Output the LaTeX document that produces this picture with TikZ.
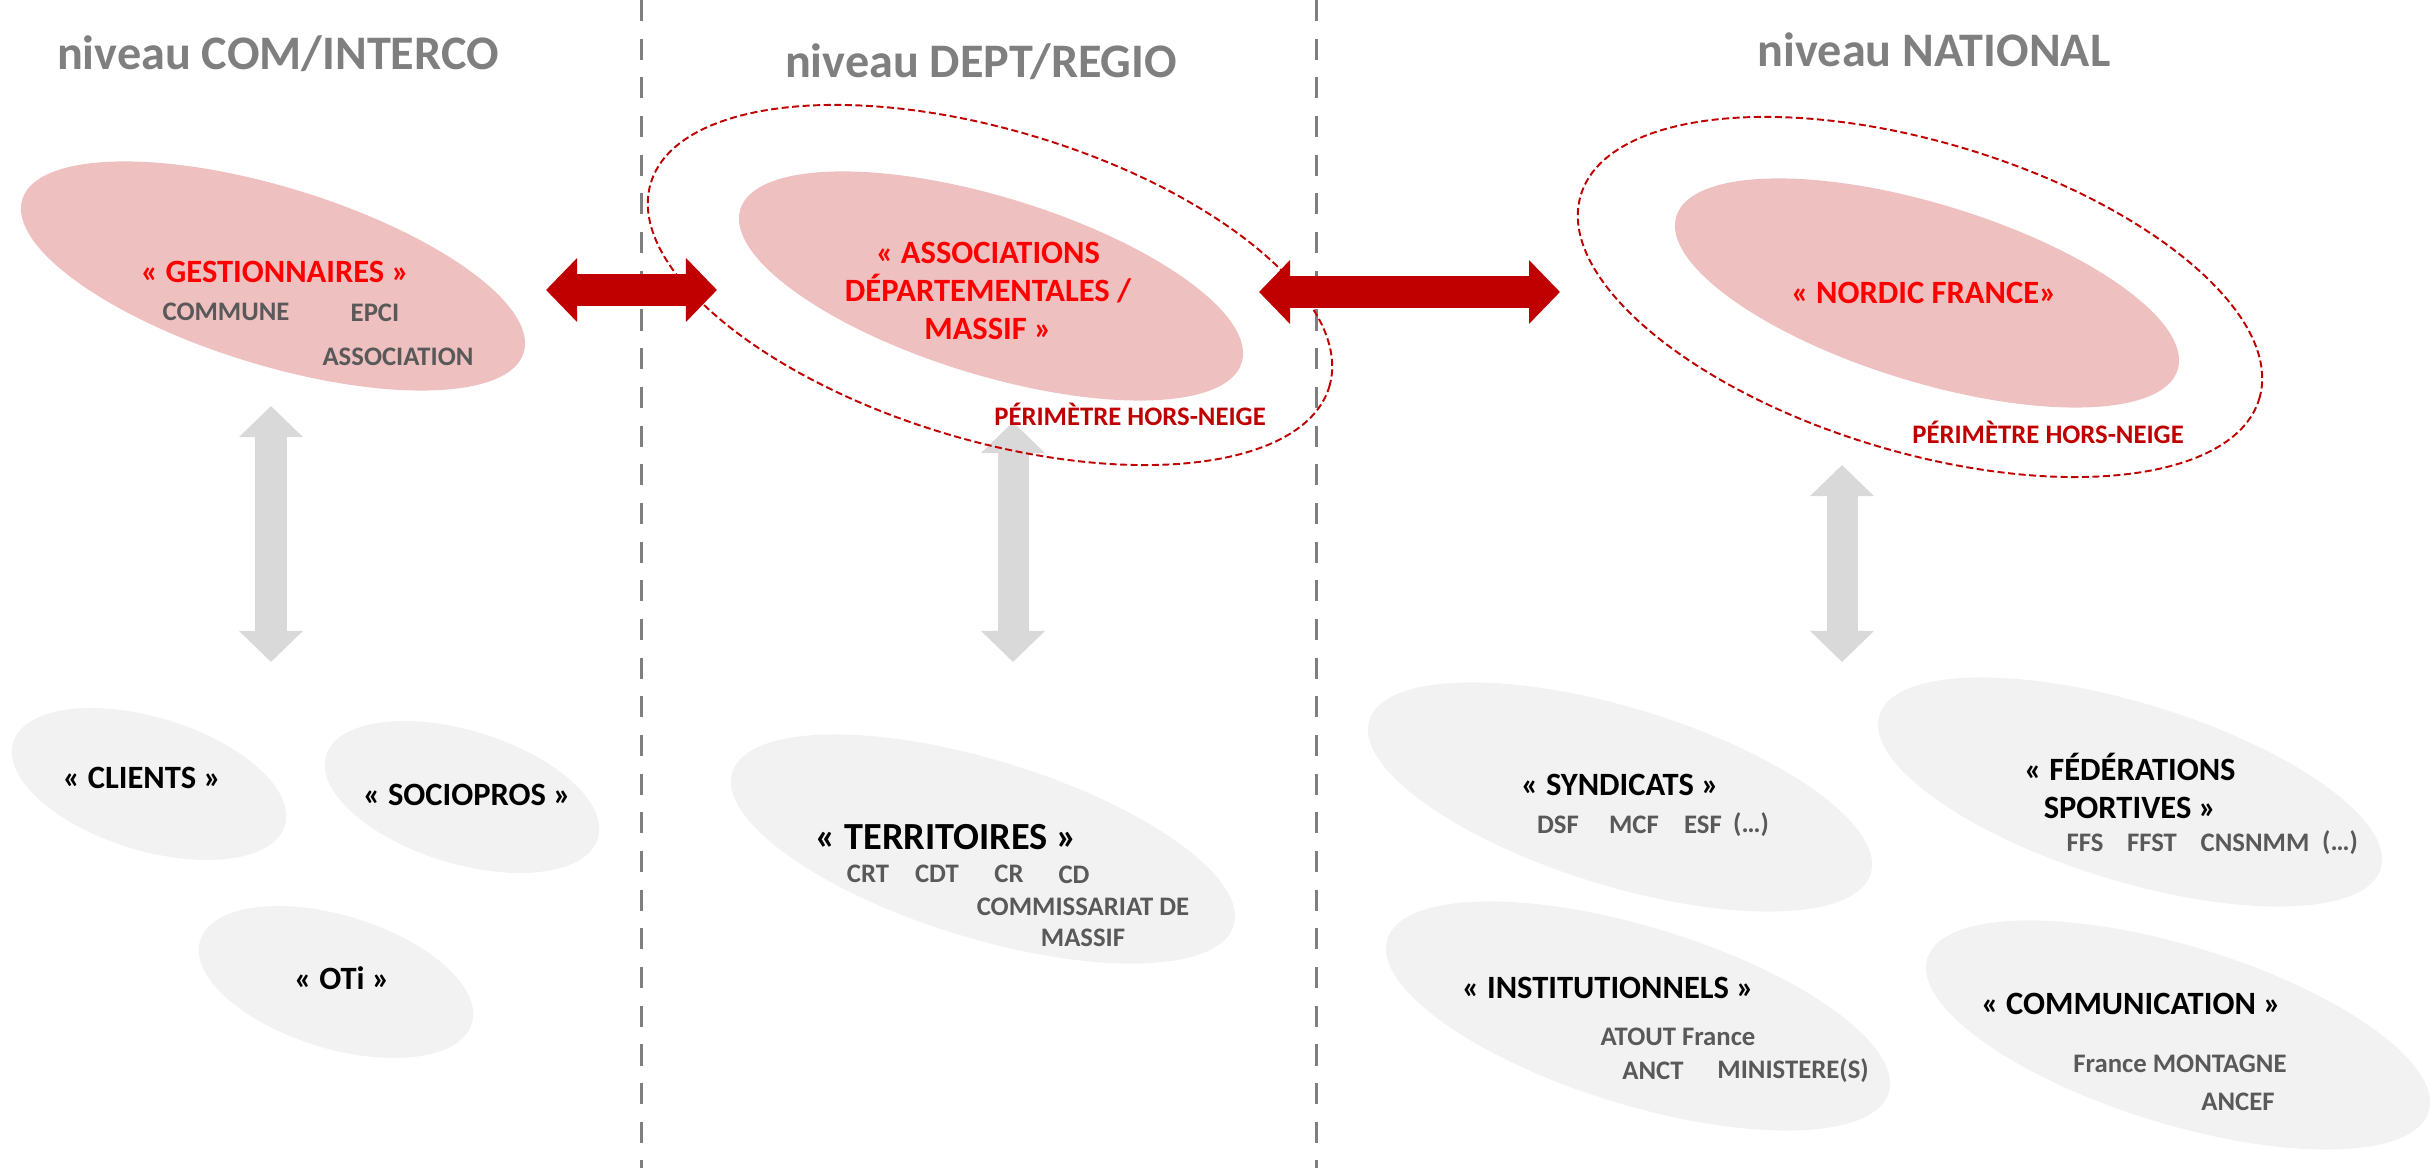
\documentclass[tikz,border=0pt]{standalone}
\usepackage{fontspec}
\setmainfont{Carlito}
\usetikzlibrary{shapes.geometric,arrows.meta}

\definecolor{pinkfill}{RGB}{239,192,192}
\definecolor{greyfill}{RGB}{242,242,242}
\definecolor{arrowgrey}{RGB}{217,217,217}
\definecolor{darkred}{RGB}{192,0,0}
\definecolor{brightred}{RGB}{255,0,0}
\definecolor{titlegrey}{RGB}{127,127,127}
\definecolor{subgrey}{RGB}{89,89,89}

\begin{document}
\begin{tikzpicture}[x=0.01cm, y=-0.01cm,
    levelline/.style={titlegrey, line width=0.85pt, dash pattern=on 6pt off 5pt},
    leveltitle/.style={text=titlegrey, font=\fontsize{13.7}{16}\selectfont\bfseries},
    bigell/.style={ellipse, inner sep=0pt, minimum width=5.24cm, minimum height=1.78cm, rotate=-17},
    smallell/.style={ellipse, inner sep=0pt, minimum width=2.84cm, minimum height=1.33cm, rotate=-17},
    perimell/.style={ellipse, inner sep=0pt, draw=darkred, line width=0.55pt, dash pattern=on 2pt off 1pt,
        minimum width=7.08cm, minimum height=3.1cm, rotate=-16.7},
    grouplab/.style={font=\fontsize{9.25}{10.9}\selectfont\bfseries, align=center, inner sep=0pt},
    redlab/.style={grouplab, text=brightred},
    sublab/.style={text=subgrey, font=\fontsize{7.6}{8.8}\selectfont\bfseries, align=center, inner sep=0pt},
    perimlab/.style={text=darkred, font=\fontsize{7.6}{8.8}\selectfont\bfseries, inner sep=0pt},
    redlink/.style={darkred, line width=0.32cm,
        {Triangle[length=0.31cm,width=0.62cm]}-{Triangle[length=0.31cm,width=0.62cm]}},
    greylink/.style={arrowgrey, line width=0.31cm,
        {Triangle[length=0.31cm,width=0.62cm]}-{Triangle[length=0.31cm,width=0.62cm]}}]

    \useasboundingbox (0,0) rectangle (2433,1168);

    % Level separators
    \draw[levelline] (641,0) -- (641,1168);
    \draw[levelline] (1316,0) -- (1316,1168);

    % Level titles
    \node[leveltitle] (t-com) at (278,54) {niveau COM/INTERCO};
    \node[leveltitle] (t-dept) at (981,62) {niveau DEPT/REGIO};
    \node[leveltitle] (t-nat) at (1934,50) {niveau NATIONAL};

    % Main actors
    \node[bigell, fill=pinkfill] (gest) at (273,276) {};
    \node[bigell, fill=pinkfill] (assoc) at (991,286) {};
    \node[bigell, fill=pinkfill] (nordic) at (1927,293) {};

    % Partners, COM/INTERCO
    \node[smallell, fill=greyfill] (clients) at (149,784) {};
    \node[smallell, fill=greyfill] (sociopros) at (462,797) {};
    \node[smallell, fill=greyfill] (oti) at (336,982) {};

    % Partners, DEPT/REGIO
    \node[bigell, fill=greyfill] (territ) at (983,849) {};

    % Partners, NATIONAL
    \node[bigell, fill=greyfill] (syndic) at (1620,797) {};
    \node[bigell, fill=greyfill] (feder) at (2130,792) {};
    \node[bigell, fill=greyfill] (instit) at (1638,1016) {};
    \node[bigell, fill=greyfill] (commu) at (2178,1035) {};

    % Links
    \coordinate (gest-e) at (546,290);
    \coordinate (assoc-w) at (717,290);
    \coordinate (assoc-e) at (1259,292);
    \coordinate (nordic-w) at (1560,292);
    \draw[redlink] (gest-e) -- (assoc-w);
    \draw[redlink] (assoc-e) -- (nordic-w);

    \coordinate (gest-s) at (271,406);
    \coordinate (com-n) at (271,662);
    \coordinate (assoc-s) at (1013,422);
    \coordinate (territ-n) at (1013,662);
    \coordinate (nordic-s) at (1842,465);
    \coordinate (nat-n) at (1842,662);
    \draw[greylink] (gest-s) -- (com-n);
    \draw[greylink] (assoc-s) -- (territ-n);
    \draw[greylink] (nordic-s) -- (nat-n);

    % Hors-neige perimeters
    \node[perimell] (perim-dept) at (990,285) {};
    \node[perimell] (perim-nat) at (1920,297) {};
    \node[perimlab] (perim-dept-lab) at (1130,414) {PÉRIMÈTRE HORS-NEIGE};
    \node[perimlab] (perim-nat-lab) at (2048,432) {PÉRIMÈTRE HORS-NEIGE};

    % Labels, main actors
    \node[redlab] (gest-lab) at (275,272) {« GESTIONNAIRES »};
    \node[sublab] (commune) at (226,312) {COMMUNE};
    \node[sublab] (epci) at (375,313) {EPCI};
    \node[sublab] (asso) at (398,357) {ASSOCIATION};
    \node[redlab] (assoc-lab) at (988,291) {« ASSOCIATIONS\\DÉPARTEMENTALES /\\MASSIF »};
    \node[redlab] (nordic-lab) at (1924,293) {« NORDIC FRANCE»};

    % Labels, partners
    \node[grouplab] (clients-lab) at (142,778) {« CLIENTS »};
    \node[grouplab] (sociopros-lab) at (467,795) {« SOCIOPROS »};
    \node[grouplab] (oti-lab) at (342,978) {« OTi »};

    \node[grouplab, font=\fontsize{10.9}{12.5}\selectfont\bfseries] (territ-lab) at (946,837) {« TERRITOIRES »};
    \node[sublab] (crt) at (868,874) {CRT};
    \node[sublab] (cdt) at (937,874) {CDT};
    \node[sublab] (cr) at (1009,874) {CR};
    \node[sublab] (cd) at (1074,875) {CD};
    \node[sublab] (commiss) at (1083,922) {COMMISSARIAT DE\\MASSIF};

    \node[grouplab] (syndic-lab) at (1620,785) {« SYNDICATS »};
    \node[sublab] (dsf) at (1558,825) {DSF};
    \node[sublab] (mcf) at (1634,825) {MCF};
    \node[sublab] (esf) at (1703,825) {ESF};
    \node[sublab] (syndic-etc) at (1751,825) {(…)};

    \node[grouplab] (feder-lab) at (2130,786) {« FÉDÉRATIONS\\SPORTIVES »};
    \node[sublab] (ffs) at (2085,843) {FFS};
    \node[sublab] (ffst) at (2152,843) {FFST};
    \node[sublab] (cnsnmm) at (2255,843) {CNSNMM};
    \node[sublab] (feder-etc) at (2340,843) {(…)};

    \node[grouplab] (instit-lab) at (1608,988) {« INSTITUTIONNELS »};
    \node[sublab] (atout) at (1678,1037) {ATOUT France};
    \node[sublab] (anct) at (1653,1071) {ANCT};
    \node[sublab] (minist) at (1793,1071) {MINISTERE(S)};

    \node[grouplab] (commu-lab) at (2131,1004) {« COMMUNICATION »};
    \node[sublab] (montagne) at (2180,1064) {France MONTAGNE};
    \node[sublab] (ancef) at (2238,1102) {ANCEF};
\end{tikzpicture}
\end{document}
